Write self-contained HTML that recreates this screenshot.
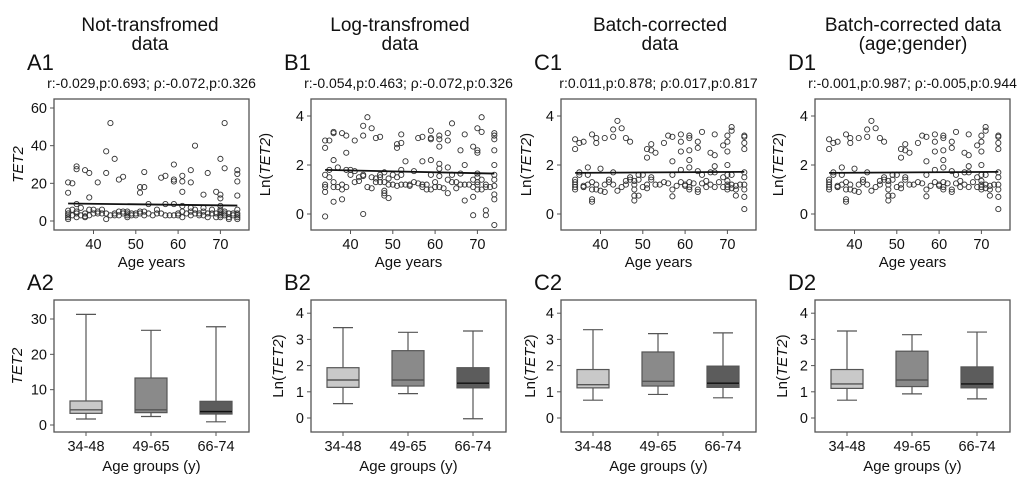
<!DOCTYPE html>
<html><head><meta charset="utf-8"><style>
body{margin:0;background:#fff}
svg{display:block;font-family:"Liberation Sans",Arial,sans-serif}
</style></head><body>
<svg id="fig" width="1020" height="495" viewBox="0 0 1020 495" xmlns="http://www.w3.org/2000/svg"></svg>
<script>
const ages=[34,35,36,37,38,39,40,41,42,43,44,45,46,47,48,49,50,51,52,53,54,55,56,57,58,59,60,61,62,63,64,65,66,67,68,69,70,71,72,73,74];
const aVals=[[1,2,3,4,5.5,15,20.5],[3,6,20],[2,4,5,9,27.5,29],[3,7],[2,2.5,4,27],[3,6,25.5,12.5],[4,6],[4,5,20.5],[4,6],[1,4,37,25.5],[3,52],[3,4,33],[3,5,22],[4,5,23.5],[2,3,4,5],[3,4],[3,4],[4,5,15,18],[3,5,18,26],[4,9],[3],[4,6],[4,23],[3,9,24],[3],[3,9,30,22,21],[3,4],[2,5,8,24,21,15.5],[4],[3,5,7,27,20.5],[4,6,40],[3,4],[3,5,7,14],[2,4,25.5],[4,6],[2,4,15.5],[2,3,4,5,6,8,33,14,12],[3,4,5,52,28],[1,2,4],[3,4],[1,2,3,4,6,27,25,21,13.5]];
const bVals=[[1.2,1.1,0.9,1.6,3,2.7,-0.1],[1.8,1.5,3],[1.1,1.3,2.2,3.3,3.35,0.5],[1.1,1.9],[1.0,1.2,3.3,0.6],[1.1,1.8,3.2,2.5],[1.8,1.6],[1.3,1.75,3],[1.35,1.5],[1.55,1.6,3.6,3.2,0],[1.1,3.95],[1.5,1.05,3.5],[1.3,1.45,3.1],[1.3,1.6,1.5,3.15],[1.7,1.3,0.95,0.85,0.75],[1.45,1.2,0.65],[1.2,1.6],[1.5,1.15,2.7,2.85],[1.8,1.2,1.6,2.9,3.25],[1.2,2.15],[1.15,1.2],[1.3,1.75],[1.25,3.1],[1.2,1.1,3.15,2.15],[1.0,1.2],[1.0,1.6,3.4,3.1,3.05,2.2],[1.1,1.3],[1.1,1.55,1.85,3.2,3.05,2.75,2.05],[1.05],[0.85,1.4,1.9,3.3,3],[1.3,1.6,3.7],[1.05,1.3],[1.2,1.65,2.6],[1.2,2.0,3.25,0.55],[1.2],[1.1,1.4,2.75,0.7,-0.05],[1.0,1.2,1.3,1.5,1.65,3.5,2.6,2.5],[1.0,1.4,3.95,3.35],[1.2,1.1,0.15,-0.05],[1.1],[1.4,1.6,2.0,1.15,3.3,3.2,3.05,2.6,-0.45,0.8,0.6]];
const cVals=[[1.0,1.1,1.2,1.3,1.4,3.05,2.65],[1.6,1.7,2.9],[1.1,1.1,1.15,2.95],[1.2,1.6,1.9],[1.0,1.3,3.25,0.6,0.5],[1.0,1.2,3.1,2.9],[0.95,1.85],[0.9,1.2,3.1],[1.3,1.4],[1.2,1.7,3.45,3.15],[0.95,3.8],[1.1,3.5],[1.2,1.35,3.1],[1.4,1.5,2.95],[1.0,1.2,1.35,0.55,0.75],[1.4,1.6,0.75],[1.1,1.6],[1.05,1.2,2.65,2.3],[1.4,1.5,2.85,2.6],[1.2,2.5],[1.2],[1.3,2.9],[1.25,3.2],[1.6,1.0,3.15,2.15,0.72],[1.15],[1.8,1.3,3.25,2.95,2.55],[1.2,1.15],[1.0,1.1,1.3,1.9,3.2,3.1,2.6,2.2],[1.25],[0.9,1.0,1.75,2.95,2.7],[1.25,1.6,3.35],[1.1,1.35],[1.2,1.7,2.5],[1.1,1.7,1.95,3.25,2.4],[1.3],[1.1,1.5,2.8],[1.0,1.1,1.2,1.35,1.6,2.0,3.2,2.95,2.55],[1.2,1.05,1.6,3.55,3.4],[1.0,1.15,0.75],[1.2],[1.2,1.5,1.7,1.0,3.15,3.2,2.9,2.65,0.7,0.2]];
const dVals=cVals;
const fitA=[9.3,8.2], fitB=[1.8,1.65], fitC=[1.68,1.72], fitD=[1.68,1.72];
const groups=["34-48","49-65","66-74"];
// [min,q1,median,q3,max]
const boxA=[[1.7,3.3,4.3,6.8,31.3],[2.4,3.5,4.3,13.3,26.8],[0.9,3.1,3.8,6.7,27.8]];
const boxB=[[0.55,1.17,1.45,1.92,3.45],[0.93,1.22,1.45,2.57,3.27],[-0.03,1.15,1.33,1.92,3.32]];
const boxC=[[0.68,1.15,1.27,1.85,3.37],[0.9,1.22,1.4,2.52,3.22],[0.77,1.17,1.33,1.98,3.25]];
const boxD=[[0.68,1.13,1.3,1.85,3.32],[0.92,1.2,1.45,2.55,3.18],[0.73,1.15,1.3,1.95,3.28]];
const stats=["r:-0.029,p:0.693; \u03c1:-0.072,p:0.326","r:-0.054,p:0.463; \u03c1:-0.072,p:0.326","r:0.011,p:0.878; \u03c1:0.017,p:0.817","r:-0.001,p:0.987; \u03c1:-0.005,p:0.944"];

const svg=document.getElementById('fig');
const NS="http://www.w3.org/2000/svg";
function el(tag,attrs,parent){const e=document.createElementNS(NS,tag);for(const k in attrs)e.setAttribute(k,attrs[k]);(parent||svg).appendChild(e);return e;}
function txt(s,x,y,size,anchor,parent){const t=el('text',{x:x,y:y,'font-size':size,'text-anchor':anchor||'middle',fill:'#111'},parent);t.textContent=s;return t;}
function ylabel(parent,x,y,log){
 const yl=el('text',{x:0,y:0,'font-size':15,'text-anchor':'middle',fill:'#111',transform:'translate('+x+','+y+') rotate(-90)'},parent);
 if(log){yl.appendChild(document.createTextNode('Ln('));const ts=el('tspan',{'font-style':'italic'},yl);ts.textContent='TET2';yl.appendChild(document.createTextNode(')'));}
 else{const ts=el('tspan',{'font-style':'italic'},yl);ts.textContent='TET2';}
 return yl;
}

const panels=[
 {id:'a',left:54,title:["Not-transfromed","data"],tc:150,vals:aVals,fit:fitA,y0:221,ys:113/60,yt:[0,20,40,60],by0:425,bys:106/30,bt:[0,10,20,30],box:boxA,log:false,yl1:-31,yl2:-32},
 {id:'b',left:311,title:["Log-transfromed","data"],tc:400,vals:bVals,fit:fitB,y0:214,ys:24.5,yt:[0,2,4],by0:418,bys:26.2,bt:[0,1,2,3,4],box:boxB,log:true,yl1:-41,yl2:-28},
 {id:'c',left:561,title:["Batch-corrected","data"],tc:660,vals:cVals,fit:fitC,y0:214,ys:24.5,yt:[0,2,4],by0:418,bys:26.2,bt:[0,1,2,3,4],box:boxC,log:true,yl1:-30,yl2:-26},
 {id:'d',left:815,title:["Batch-corrected data","(age;gender)"],tc:913,vals:dVals,fit:fitD,y0:214,ys:24.5,yt:[0,2,4],by0:418,bys:26.2,bt:[0,1,2,3,4],box:boxD,log:true,yl1:-32,yl2:-28}
];
const W=195, fills=['#c9c9c9','#8a8a8a','#5c5c5c'];

panels.forEach((p,pi)=>{
 const L=p.left, letter=p.id.toUpperCase();
 const g=el('g',{});
 
 
 const t1=txt(p.title[0],p.tc,31,19,'middle',g);
 
 
 const t2=txt(p.title[1],p.tc,50,19,'middle',g);
 
 
 const l1=txt(letter+'1',L-27,70,22,'start',g);
 
 
 const st=txt(stats[pi],L+W/2,88,14,'middle',g);
 
 
 const T=99,B=230;
 const X=a=>L+39.5+(a-40)*4.23;
 const Y=v=>p.y0-v*p.ys;
 const fr=el('rect',{x:L,y:T,width:W,height:B-T,fill:'none',stroke:'#555','stroke-width':1.3},g);
 
 
 p.yt.forEach(v=>{el('line',{x1:L-4,x2:L,y1:Y(v),y2:Y(v),stroke:'#555'},g);txt(String(v),L-7,Y(v)+5,14.5,'end',g);});
 [40,50,60,70].forEach(a=>{el('line',{x1:X(a),x2:X(a),y1:B,y2:B+4,stroke:'#555'},g);txt(String(a),X(a),B+19,14.5,'middle',g);});
 const xl=txt('Age years',L+W/2,B+37,15,'middle',g);
 
 
 const yl=ylabel(g,L+p.yl1,(T+B)/2,p.log);
 
 
 ages.forEach((a,i)=>{p.vals[i].forEach(v=>{
   const c=el('circle',{cx:X(a),cy:Y(v),r:2.6,fill:'none',stroke:'#333','stroke-width':0.9},g);
   
   
 });});
 const fl=el('line',{x1:X(34),x2:X(74),y1:Y(p.fit[0]),y2:Y(p.fit[1]),stroke:'#111','stroke-width':1.8},g);
 
 
 const l2=txt(letter+'2',L-27,290,22,'start',g);
 
 
 const T2=300,B2=432;
 const BY=v=>p.by0-v*p.bys;
 const fr2=el('rect',{x:L,y:T2,width:W,height:B2-T2,fill:'none',stroke:'#555','stroke-width':1.3},g);
 
 
 p.bt.forEach(v=>{el('line',{x1:L-4,x2:L,y1:BY(v),y2:BY(v),stroke:'#555'},g);txt(String(v),L-7,BY(v)+5,14.5,'end',g);});
 groups.forEach((gr,i)=>{
   const cx=L+32+i*65, d=p.box[i];
   el('line',{x1:cx,x2:cx,y1:B2,y2:B2+4,stroke:'#555'},g);
   txt(gr,cx,B2+19,14.5,'middle',g);
   const bg=el('g',{},g);
   
   
   el('line',{x1:cx,x2:cx,y1:BY(d[0]),y2:BY(d[4]),stroke:'#555','stroke-width':1.2},bg);
   el('line',{x1:cx-10,x2:cx+10,y1:BY(d[0]),y2:BY(d[0]),stroke:'#555','stroke-width':1.2},bg);
   el('line',{x1:cx-10,x2:cx+10,y1:BY(d[4]),y2:BY(d[4]),stroke:'#555','stroke-width':1.2},bg);
   el('rect',{x:cx-16,y:BY(d[3]),width:32,height:BY(d[1])-BY(d[3]),fill:fills[i],stroke:'#555','stroke-width':1.2},bg);
   el('line',{x1:cx-16,x2:cx+16,y1:BY(d[2]),y2:BY(d[2]),stroke:i==2?'#111':'#555','stroke-width':1.4},bg);
 });
 const xl2=txt('Age groups (y)',L+W/2,B2+39,15,'middle',g);
 
 
 const yl2=ylabel(g,L+p.yl2,(T2+B2)/2,p.log);
 
 
});
</script>
</body></html>
